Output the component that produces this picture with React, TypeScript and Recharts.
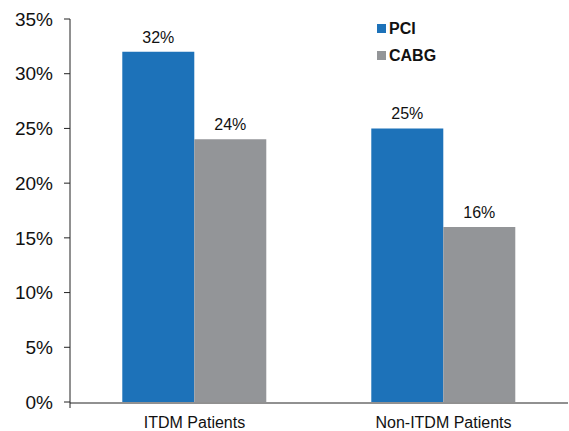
import { BarChart, Bar, XAxis, YAxis, Legend, LabelList } from "recharts";

const groups = ["ITDM Patients", "Non-ITDM Patients"];
const pci = [32, 25];
const cabg = [24, 16];
const seriesNames = ["PCI", "CABG"];
const yTicks = [0, 5, 10, 15, 20, 25, 30, 35];
const boundaryTicks = [0, 1, 2];

const data = groups.map((g, i) => ({ group: g, pci: pci[i], cabg: cabg[i] }));

const FONT = "'Liberation Sans', Arial, sans-serif";
const BLUE = "#1d72b9";
const GRAY = "#939598";

function LegendBox({ payload }: any) {
  const items = [...(payload || [])].sort(
    (a: any, b: any) => seriesNames.indexOf(a.value) - seriesNames.indexOf(b.value)
  );
  return (
    <div style={{ fontFamily: FONT, fontWeight: 700, fontSize: 16, color: "#111" }}>
      {items.map((p: any) => (
        <div key={p.value} style={{ display: "flex", alignItems: "center", height: 27 }}>
          <span style={{ width: 9, height: 9, background: p.color, display: "inline-block", marginRight: 3 }} />
          {p.value}
        </div>
      ))}
    </div>
  );
}

export default function App() {
  return (
    <div style={{ position: "absolute", left: 0, top: 0, background: "#fff" }}>
      <BarChart width={569} height={431} data={data} margin={{ top: 19, right: 1, bottom: 0, left: 0 }}
        barCategoryGap="21%" barGap={0}>
        {/* tick-only axis: marks the category boundaries */}
        <XAxis xAxisId="a" type="number" domain={[0, 2]} ticks={boundaryTicks} allowDataOverflow
          tickFormatter={() => ""} axisLine={false} tickSize={6} height={1} stroke="#222" />
        <XAxis xAxisId="b" dataKey="group" height={28} tickLine={false} stroke="#222" tickMargin={8}
          tick={{ fill: "#111", fontSize: 16, fontFamily: FONT }} />
        <YAxis width={70} domain={[0, 35]} ticks={yTicks} tickFormatter={(v) => `${v}%`} stroke="#222"
          tickSize={6} tickMargin={11} tick={{ fill: "#111", fontSize: 19, fontFamily: FONT }} />
        <Legend layout="vertical" align="center" verticalAlign="middle" content={<LegendBox />}
          wrapperStyle={{ position: "absolute", left: 377, top: 15, width: 120 }} />
        <Bar xAxisId="b" dataKey="pci" name="PCI" fill={BLUE} isAnimationActive={false}>
          <LabelList dataKey="pci" position="top" offset={9} formatter={(v: any) => `${v}%`}
            style={{ fill: "#111", fontSize: 16, fontFamily: FONT }} />
        </Bar>
        <Bar xAxisId="b" dataKey="cabg" name="CABG" fill={GRAY} isAnimationActive={false}>
          <LabelList dataKey="cabg" position="top" offset={9} formatter={(v: any) => `${v}%`}
            style={{ fill: "#111", fontSize: 16, fontFamily: FONT }} />
        </Bar>
      </BarChart>
    </div>
  );
}
